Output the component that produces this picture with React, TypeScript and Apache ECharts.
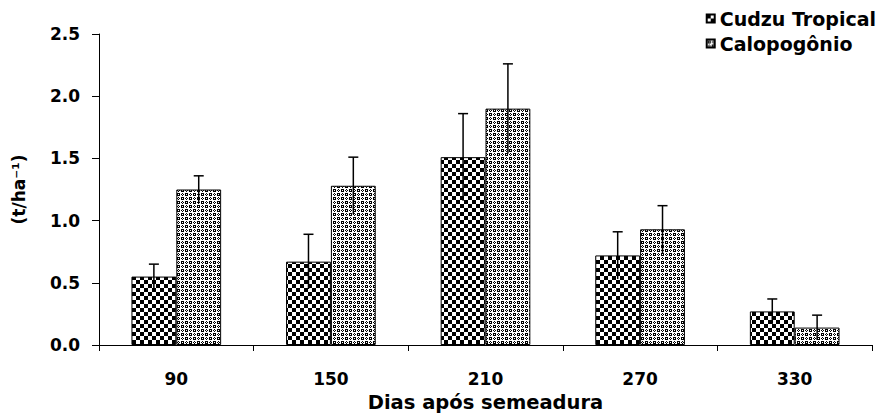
import React, { useEffect, useRef } from 'react';
import * as echarts from 'echarts';

const categories = ['90', '150', '210', '270', '330'];
const seriesNames = ['Cudzu Tropical', 'Calopogônio'];
const cudzuValues = [0.55, 0.67, 1.51, 0.72, 0.27];
const cudzuErrors = [0.1, 0.22, 0.35, 0.19, 0.1];
const calopoValues = [1.25, 1.28, 1.9, 0.93, 0.14];
const calopoErrors = [0.11, 0.23, 0.36, 0.19, 0.1];
const yAxisName = '(t/ha⁻¹)';
const xAxisName = 'Dias após semeadura';

const GAP = 0.42;
const FONT = "'DejaVu Sans', 'Liberation Sans', Arial, sans-serif";

function makeChecker(): HTMLCanvasElement {
  const c = document.createElement('canvas');
  c.width = 8;
  c.height = 8;
  const ctx = c.getContext('2d')!;
  ctx.fillStyle = '#fff';
  ctx.fillRect(0, 0, 8, 8);
  ctx.fillStyle = '#000';
  ctx.fillRect(0, 0, 4, 4);
  ctx.fillRect(4, 4, 4, 4);
  return c;
}

function makeDots(): HTMLCanvasElement {
  const c = document.createElement('canvas');
  c.width = 8;
  c.height = 8;
  const ctx = c.getContext('2d')!;
  ctx.fillStyle = '#fff';
  ctx.fillRect(0, 0, 8, 8);
  ctx.fillStyle = '#000';
  const px = [
    [1, 1], [2, 1], [3, 1], [1, 2], [3, 2], [1, 3], [2, 3], [3, 3],
    [5, 5], [6, 5], [7, 5], [5, 6], [7, 6], [5, 7], [6, 7], [7, 7],
    [6, 1], [5, 2], [7, 2], [6, 3],
    [2, 5], [1, 6], [3, 6], [2, 7],
  ];
  px.forEach(([x, y]) => ctx.fillRect(x, y, 1, 1));
  return c;
}

function errorSeries(values: number[], errors: number[], side: number) {
  return {
    type: 'custom',
    silent: true,
    z: 10,
    data: values.map((v, i) => [i, v, errors[i]]),
    encode: { x: 0, y: 1 },
    renderItem: (params: any, api: any) => {
      const i = api.value(0);
      const v = api.value(1);
      const e = api.value(2);
      const band = api.size([1, 0])[0];
      const barW = (band * (1 - GAP)) / 2;
      const off = side * 0.5 * barW;
      const top = api.coord([i, v + e]);
      const bot = api.coord([i, v - e]);
      const x = top[0] + off;
      const style = { stroke: '#000', lineWidth: 1.5 };
      return {
        type: 'group',
        children: [
          { type: 'line', shape: { x1: x, y1: top[1], x2: x, y2: bot[1] }, style },
          { type: 'line', shape: { x1: x - 5, y1: top[1], x2: x + 5, y2: top[1] }, style },
        ],
      };
    },
  };
}

export default function App() {
  const ref = useRef<HTMLDivElement>(null);
  useEffect(() => {
    if (!ref.current) return;
    const chart = echarts.init(ref.current, undefined, { renderer: 'svg' });
    const checker = makeChecker();
    const dots = makeDots();
    const textBase = { fontFamily: FONT, fontWeight: 'bold', color: '#000' };
    chart.setOption({
      animation: false,
      backgroundColor: '#fff',
      grid: { left: 99, right: 11, top: 34, bottom: 69, containLabel: false, outerBoundsMode: 'none' },
      legend: {
        data: seriesNames,
        orient: 'vertical',
        right: 7,
        top: 9,
        icon: 'rect',
        itemWidth: 8,
        itemHeight: 8,
        itemGap: 6,
        padding: 0,
        textStyle: { ...textBase, fontSize: 19, padding: [0, 0, 0, 0] },
      },
      xAxis: {
        type: 'category',
        data: categories,
        axisLine: { lineStyle: { color: '#000', width: 1 } },
        axisTick: { show: true, length: 6, alignWithLabel: false, lineStyle: { color: '#000' } },
        axisLabel: { ...textBase, fontSize: 17, margin: 25 },
        splitLine: { show: false },
        name: xAxisName,
        nameLocation: 'middle',
        nameGap: 47,
        nameTextStyle: { ...textBase, fontSize: 19.5, lineHeight: 20 },
      },
      yAxis: {
        type: 'value',
        min: 0,
        max: 2.5,
        interval: 0.5,
        axisLine: { show: true, lineStyle: { color: '#000', width: 1 } },
        axisTick: { show: true, length: 7, lineStyle: { color: '#000' } },
        axisLabel: { ...textBase, fontSize: 17, margin: 19, formatter: (v: number) => v.toFixed(1) },
        splitLine: { show: false },
        name: yAxisName,
        nameLocation: 'middle',
        nameGap: 72,
        nameTextStyle: { ...textBase, fontSize: 17 },
      },
      series: [
        {
          name: seriesNames[0],
          type: 'bar',
          data: cudzuValues,
          barGap: '0%',
          barCategoryGap: GAP * 100 + '%',
          itemStyle: {
            color: { image: checker, repeat: 'repeat', imageWidth: 8, imageHeight: 8 },
            borderColor: '#000',
            borderWidth: 1,
          },
        },
        {
          name: seriesNames[1],
          type: 'bar',
          data: calopoValues,
          barGap: '0%',
          barCategoryGap: GAP * 100 + '%',
          itemStyle: {
            color: { image: dots, repeat: 'repeat', imageWidth: 8, imageHeight: 8 },
            borderColor: '#000',
            borderWidth: 1,
          },
        },
        errorSeries(cudzuValues, cudzuErrors, -1),
        errorSeries(calopoValues, calopoErrors, 1),
      ],
    });
    return () => chart.dispose();
  }, []);
  return <div ref={ref} style={{ position: 'fixed', left: 0, top: 0, width: 883, height: 414 }} />;
}
